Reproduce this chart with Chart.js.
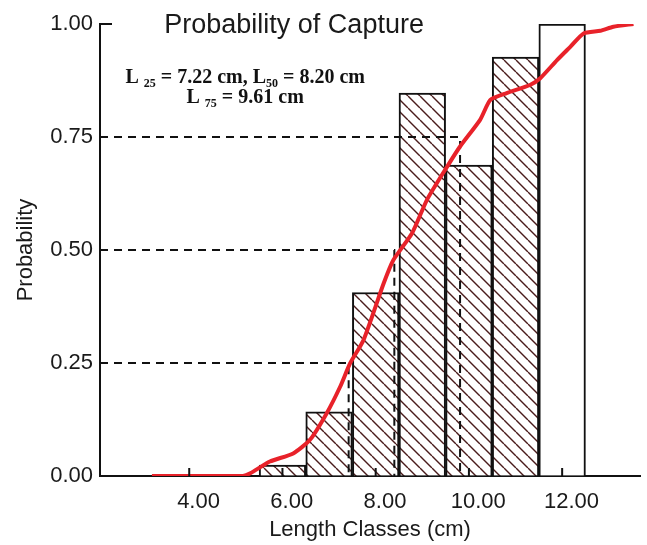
<!DOCTYPE html>
<html>
<head>
<meta charset="utf-8">
<script src="https://cdn.jsdelivr.net/npm/chart.js@4.4.1/dist/chart.umd.min.js"></script>
<style>
  html, body { margin: 0; padding: 0; background: #fff; }
  #wrap { width: 647px; height: 545px; position: relative; }
</style>
</head>
<body>
<div id="wrap"><canvas id="captureChart"></canvas></div>
<script>
// axis range + ticks
const X_MIN = 1.886, X_MAX = 13.47;
const xTicks = [4, 6, 8, 10, 12];
const classTicks = [3.8, 5.8, 7.8, 9.8, 11.8];

// length classes (midpoints) and observed probability of capture
const classMids = [5.8, 6.8, 7.8, 8.8, 9.8, 10.8, 11.8];
const observed = [0.024, 0.142, 0.406, 0.847, 0.688, 0.927, 1.0];

// fitted selection curve (red)
const curveX = [3.00, 4.95, 5.11, 5.53, 6.03, 6.39, 6.75, 7.04, 7.25, 7.54, 7.97, 8.18, 8.58, 8.90, 9.33,
                9.61, 10.04, 10.26, 10.61, 11.11, 11.33, 11.69, 11.98, 12.26, 12.62, 12.90, 13.33];
const curveY = [0, 0, 0.006, 0.032, 0.050, 0.080, 0.139, 0.198, 0.249, 0.301, 0.426, 0.478, 0.537, 0.611, 0.684,
                0.729, 0.788, 0.832, 0.847, 0.865, 0.880, 0.920, 0.950, 0.979, 0.985, 0.994, 1.0];

// L25 / L50 / L75
const lProbs = [0.25, 0.50, 0.75];
const lValues = [7.22, 8.20, 9.61];

const ctx = document.getElementById('captureChart').getContext('2d');

function makeHatch() {
  const s = 12;
  const c = document.createElement('canvas');
  c.width = s; c.height = s;
  const g = c.getContext('2d');
  g.fillStyle = '#fff';
  g.fillRect(0, 0, s, s);
  g.strokeStyle = '#4a1c1c';
  g.lineWidth = 1.4;
  g.beginPath();
  for (const k of [-s, 0, s]) { g.moveTo(k, 0); g.lineTo(k + s, s); }
  g.stroke();
  return ctx.createPattern(c, 'repeat');
}
const hatch = makeHatch();
const barColors = observed.map((v, i) => i === observed.length - 1 ? '#fff' : hatch);

// dashed guide lines, one dataset per L value
const guideSets = lValues.map((lv, i) => ({
  type: 'line',
  data: [{x: X_MIN, y: lProbs[i]}, {x: lv, y: lProbs[i]}, {x: lv, y: 0}],
  borderColor: '#111',
  borderWidth: 2,
  borderDash: [8, 6],
  pointRadius: 0,
  fill: false,
  order: 1
}));

const fontSans = 'Liberation Sans, Arial, sans-serif';

const extras = {
  id: 'extras',
  afterDraw(chart) {
    const c = chart.ctx;
    const xs = chart.scales.x, ys = chart.scales.y;
    const base = ys.getPixelForValue(0);
    c.save();
    // little inner ticks
    c.strokeStyle = '#111';
    c.lineWidth = 2;
    c.beginPath();
    classTicks.forEach(v => {
      const px = xs.getPixelForValue(v);
      c.moveTo(px, base); c.lineTo(px, base - 8);
    });
    const top = ys.getPixelForValue(1);
    c.moveTo(xs.left, top); c.lineTo(xs.left + 12, top);
    c.stroke();

    // title
    c.fillStyle = '#1a1a1a';
    c.font = '27px ' + fontSans;
    c.textAlign = 'center';
    c.textBaseline = 'alphabetic';
    c.fillText('Probability of Capture', xs.getPixelForValue(6.05), chart.chartArea.top + 9);

    // annotation with subscripts
    const drawRich = (parts, cx, by) => {
      let w = 0;
      parts.forEach(p => {
        c.font = (p.sub ? 'bold 12px ' : 'bold 20px ') + 'Liberation Serif, Times New Roman, serif';
        p.w = c.measureText(p.t).width;
        w += p.w;
      });
      let x = cx - w / 2;
      c.textAlign = 'left';
      c.fillStyle = '#111';
      parts.forEach(p => {
        c.font = (p.sub ? 'bold 12px ' : 'bold 20px ') + 'Liberation Serif, Times New Roman, serif';
        c.fillText(p.t, x, by + (p.sub ? 4 : 0));
        x += p.w;
      });
    };
    const cx = xs.getPixelForValue(5.0);
    drawRich([{t: 'L '}, {t: '25', sub: true}, {t: ' = 7.22 cm, L'}, {t: '50', sub: true}, {t: ' = 8.20 cm'}],
             cx, ys.getPixelForValue(0.87));
    drawRich([{t: 'L '}, {t: '75', sub: true}, {t: ' = 9.61 cm'}], cx, ys.getPixelForValue(0.825));
    c.restore();
  }
};

new Chart(ctx, {
  type: 'bar',
  data: {
    datasets: [
      {
        type: 'line',
        data: curveX.map((x, i) => ({x: x, y: curveY[i]})),
        borderColor: '#e8222a',
        borderWidth: 4,
        pointRadius: 0,
        tension: 0.2,
        fill: false,
        order: 0
      },
      ...guideSets,
      {
        type: 'bar',
        data: classMids.map((x, i) => ({x: x, y: observed[i]})),
        backgroundColor: barColors,
        borderColor: '#111',
        borderWidth: 2,
        borderSkipped: 'start',
        barPercentage: 1,
        categoryPercentage: 1,
        grouped: false,
        order: 2
      }
    ]
  },
  options: {
    responsive: true,
    maintainAspectRatio: false,
    animation: false,
    events: [],
    layout: { padding: { top: 24, right: 7, left: 0, bottom: 0 } },
    plugins: {
      legend: { display: false },
      tooltip: { enabled: false },
      title: { display: false }
    },
    scales: {
      x: {
        type: 'linear',
        min: X_MIN,
        max: X_MAX,
        offset: false,
        afterBuildTicks: s => { s.ticks = xTicks.map(v => ({value: v})); },
        afterFit: s => { s.height = 69; },
        grid: { display: true, drawOnChartArea: false, drawTicks: false },
        border: { color: '#111', width: 2 },
        ticks: {
          color: '#1a1a1a',
          padding: 13,
          maxRotation: 0,
          font: { family: fontSans, size: 22 },
          callback: v => Number(v).toFixed(2)
        },
        title: {
          display: true,
          text: 'Length Classes (cm)',
          color: '#1a1a1a',
          font: { family: fontSans, size: 22 },
          padding: { top: 0, bottom: 2 }
        }
      },
      y: {
        min: 0,
        max: 1,
        afterFit: s => { s.width = 100; },
        grid: { display: true, drawOnChartArea: false, drawTicks: false },
        border: { color: '#111', width: 2 },
        ticks: {
          stepSize: 0.25,
          color: '#1a1a1a',
          padding: 7,
          font: { family: fontSans, size: 22 },
          callback: v => Number(v).toFixed(2)
        },
        title: {
          display: true,
          text: 'Probability',
          color: '#1a1a1a',
          font: { family: fontSans, size: 22 },
          padding: { top: 13, bottom: 0 }
        }
      }
    }
  },
  plugins: [extras]
});
</script>
</body>
</html>
